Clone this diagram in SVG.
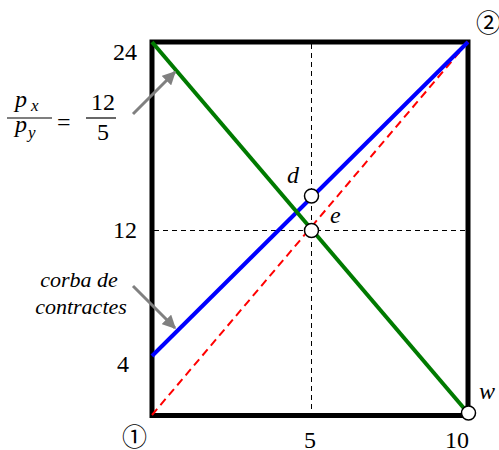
<svg xmlns="http://www.w3.org/2000/svg" width="499" height="450" viewBox="0 0 499 450">
<defs>
<style>
.t{font-family:"Liberation Serif","Times New Roman",serif;font-size:24px;fill:#000}
.i{font-style:italic}
.s{font-size:17px}
.c{font-family:"Liberation Serif","Noto Sans CJK JP",serif;font-size:25px;fill:#000}
.guide{stroke:#000;stroke-width:1;stroke-dasharray:5 4;fill:none}
.pt{fill:#fff;stroke:#000;stroke-width:1.5}
.arr{stroke:#808080;stroke-width:3;fill:none;marker-end:url(#ah)}
</style>
<marker id="ah" viewBox="0 0 10 10" refX="9" refY="5" markerWidth="4.5" markerHeight="4.5" orient="auto" markerUnits="strokeWidth">
<path d="M0,0 L10,5 L0,10 z" fill="#808080"/>
</marker>
</defs>
<rect width="499" height="450" fill="#fff"/>
<g id="guides">
<line class="guide" x1="311.5" y1="44" x2="311.5" y2="413"/>
<line class="guide" x1="154" y1="230.5" x2="466" y2="230.5"/>
</g>
<g id="box">
<rect x="152" y="42" width="316" height="373.5" fill="none" stroke="#000" stroke-width="5"/>
</g>
<g id="connectors">
<line x1="152" y1="415" x2="468" y2="42" stroke="#ff0000" stroke-width="2" stroke-dasharray="8 5"/>
<line x1="152" y1="356" x2="468" y2="42" stroke="#0000ff" stroke-width="4"/>
<line x1="152" y1="42" x2="468" y2="413" stroke="#007a00" stroke-width="4"/>
<line class="arr" x1="133" y1="114" x2="175" y2="72"/>
<line class="arr" x1="133" y1="286" x2="175" y2="328"/>
</g>
<g id="point-d"><circle class="pt" cx="311.5" cy="196" r="7"/><text class="t i" x="287" y="183">d</text></g>
<g id="point-e"><circle class="pt" cx="311.5" cy="230.5" r="7"/><text class="t i" x="330" y="223">e</text></g>
<g id="point-w"><circle class="pt" cx="468.5" cy="413" r="7"/><text class="t i" x="479" y="399">w</text></g>
<g id="labels">
<text class="t" x="113" y="60">24</text>
<text class="t" x="113" y="238">12</text>
<text class="t" x="117" y="372">4</text>
<text class="t" x="304" y="448">5</text>
<text class="t" x="445" y="448">10</text>
<text class="c" x="122" y="446">①</text>
<text class="c" x="476" y="32">②</text>
</g>
<g id="ratio">
<text class="t i" x="15" y="107">p</text>
<text class="t i s" x="31" y="111">x</text>
<line x1="7" y1="118" x2="52" y2="118" stroke="#000" stroke-width="1.2"/>
<text class="t i" x="15" y="132">p</text>
<text class="t i s" x="28" y="138">y</text>
<text class="t" x="57" y="130">=</text>
<text class="t" x="91" y="110">12</text>
<line x1="86" y1="118" x2="116" y2="118" stroke="#000" stroke-width="1.2"/>
<text class="t" x="97" y="140">5</text>
</g>
<g id="curve-label">
<text class="t i" x="79" y="287" text-anchor="middle" style="font-size:22px">corba de</text>
<text class="t i" x="81" y="314" text-anchor="middle" style="font-size:22px">contractes</text>
</g>
</svg>
